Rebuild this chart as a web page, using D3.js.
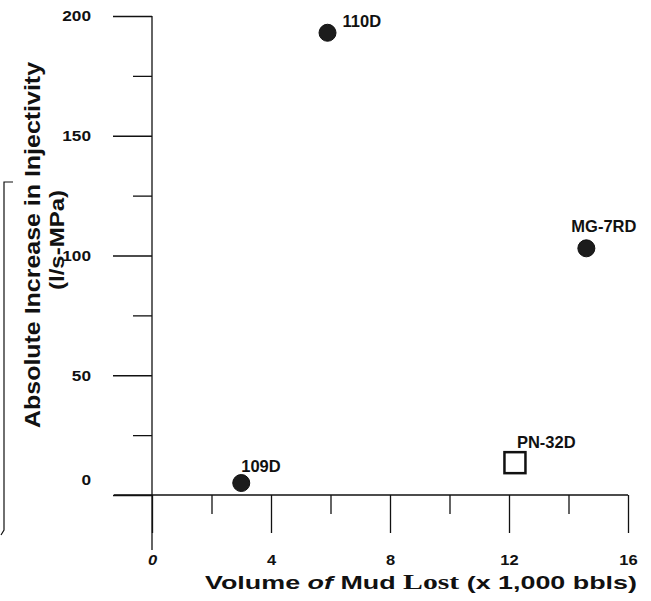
<!DOCTYPE html>
<html>
<head>
<meta charset="utf-8">
<script src="https://cdn.jsdelivr.net/npm/d3@7"></script>
<style>
  html, body { margin: 0; padding: 0; background: #fff; }
  svg { display: block; font-family: "Liberation Sans", Arial, sans-serif; }
</style>
</head>
<body>
<svg id="chart" width="651" height="601"></svg>
<script>
// ---- data ----
const wells = ["109D", "110D", "MG-7RD", "PN-32D"];
const mudLost = [3.0, 5.9, 14.6, 12.2];          // x 1,000 bbls
const injIncrease = [5, 193, 103, 13.5];         // l/s-MPa
const markerType = ["circle", "circle", "circle", "square"];
const xTickValues = [0, 4, 8, 12, 16];
const xMinorTicks = [2, 6, 10, 14];
const yTickValues = [0, 50, 100, 150, 200];
const yMinorTicks = [25, 75, 125, 175];

const svg = d3.select("#chart");
const x = d3.scaleLinear().domain([0, 16]).range([152, 628]);
const y = d3.scaleLinear().domain([0, 200]).range([495, 16]);

const ink = "#111";

// axes lines
svg.append("line").attr("x1", x(0)).attr("x2", x(0)).attr("y1", y(200)).attr("y2", 550)
  .attr("stroke", ink).attr("stroke-width", 1.3);
svg.append("line").attr("x1", 114).attr("x2", x(16)).attr("y1", y(0)).attr("y2", y(0))
  .attr("stroke", ink).attr("stroke-width", 1.3);

// y axis ticks (outward to the left)
const yAxis = d3.axisLeft(y).tickValues(yTickValues).tickSize(39).tickPadding(22)
  .tickFormat(d3.format("d"));
const gy = svg.append("g").attr("transform", `translate(${x(0)},0)`).call(yAxis);
gy.select(".domain").remove();
gy.selectAll(".tick line").attr("stroke", ink).attr("stroke-width", 1.3);
gy.selectAll(".tick text")
  .attr("fill", ink)
  .style("font-size", "15px").style("font-weight", "bold")
  .attr("dy", d => d === 0 ? "-0.7em" : "0.32em")
  .style("transform-box", "fill-box").style("transform-origin", "right center")
  .style("transform", "scaleX(1.15)");
const gyMinor = d3.axisLeft(y).tickValues(yMinorTicks).tickSize(19).tickFormat("");
const gym = svg.append("g").attr("transform", `translate(${x(0)},0)`).call(gyMinor);
gym.select(".domain").remove();
gym.selectAll(".tick line").attr("stroke", ink).attr("stroke-width", 1.3);

// x axis ticks (downward)
const xAxis = d3.axisBottom(x).tickValues(xTickValues).tickSize(38).tickPadding(21)
  .tickFormat(d3.format("d"));
const gx = svg.append("g").attr("transform", `translate(0,${y(0)})`).call(xAxis);
gx.select(".domain").remove();
gx.selectAll(".tick line").attr("stroke", ink).attr("stroke-width", 1.3);
gx.selectAll(".tick text")
  .attr("fill", ink)
  .style("font-size", "15px").style("font-weight", "bold")
  .style("font-style", d => d === 0 ? "italic" : "normal")
  .style("transform-box", "fill-box").style("transform-origin", "center")
  .style("transform", "scaleX(1.1)");
const gxMinor = d3.axisBottom(x).tickValues(xMinorTicks).tickSize(19).tickFormat("");
const gxm = svg.append("g").attr("transform", `translate(0,${y(0)})`).call(gxMinor);
gxm.select(".domain").remove();
gxm.selectAll(".tick line").attr("stroke", ink).attr("stroke-width", 1.3);

// axis titles
svg.append("text")
  .attr("transform", "translate(40,245) rotate(-90)")
  .attr("text-anchor", "middle")
  .attr("textLength", 366).attr("lengthAdjust", "spacingAndGlyphs")
  .style("font-size", "22px").style("font-weight", "bold").attr("fill", ink)
  .text("Absolute Increase in Injectivity");
svg.append("text")
  .attr("transform", "translate(64,240) rotate(-90)")
  .attr("text-anchor", "middle")
  .attr("textLength", 100).attr("lengthAdjust", "spacingAndGlyphs")
  .style("font-size", "20px").style("font-weight", "bold").attr("fill", ink)
  .text("(l/s-MPa)");

const xt = svg.append("text")
  .attr("x", 421).attr("y", 589).attr("text-anchor", "middle")
  .attr("textLength", 432).attr("lengthAdjust", "spacingAndGlyphs")
  .style("font-size", "19px").style("font-weight", "bold").attr("fill", ink);
xt.append("tspan").text("Volume ");
xt.append("tspan").style("font-style", "italic").text("of");
xt.append("tspan").text(" Mud ");
xt.append("tspan").style("font-family", "'Liberation Serif', 'Times New Roman', serif")
  .style("font-size", "21px").text("Lost");
xt.append("tspan").text(" (x 1,000 bbls)");

// left bracket (frame remnant)
svg.append("path").attr("d", "M13,182 H4 V530 L1,535")
  .attr("fill", "none").attr("stroke", ink).attr("stroke-width", 1.2);

// data points
const pts = wells.map((w, i) => ({ name: w, xv: mudLost[i], yv: injIncrease[i], type: markerType[i] }));
const labelOffset = { "109D": [0, -11], "110D": [15, -6], "MG-7RD": [-15, -16], "PN-32D": [2, -15] };

svg.selectAll("circle.pt").data(pts.filter(d => d.type === "circle")).join("circle")
  .attr("class", "pt")
  .attr("cx", d => x(d.xv)).attr("cy", d => y(d.yv)).attr("r", 8.5)
  .attr("fill", "#1c1c1c").attr("stroke", ink).attr("stroke-width", 1);

svg.selectAll("rect.pt").data(pts.filter(d => d.type === "square")).join("rect")
  .attr("class", "pt")
  .attr("x", d => x(d.xv) - 10.5).attr("y", d => y(d.yv) - 10.5)
  .attr("width", 21).attr("height", 21)
  .attr("fill", "none").attr("stroke", ink).attr("stroke-width", 2.5);

svg.selectAll("text.lbl").data(pts).join("text")
  .attr("class", "lbl")
  .attr("x", d => x(d.xv) + labelOffset[d.name][0])
  .attr("y", d => y(d.yv) + labelOffset[d.name][1])
  .style("font-size", "16.5px").style("font-weight", "bold").attr("fill", ink)
  .text(d => d.name);
</script>
</body>
</html>
